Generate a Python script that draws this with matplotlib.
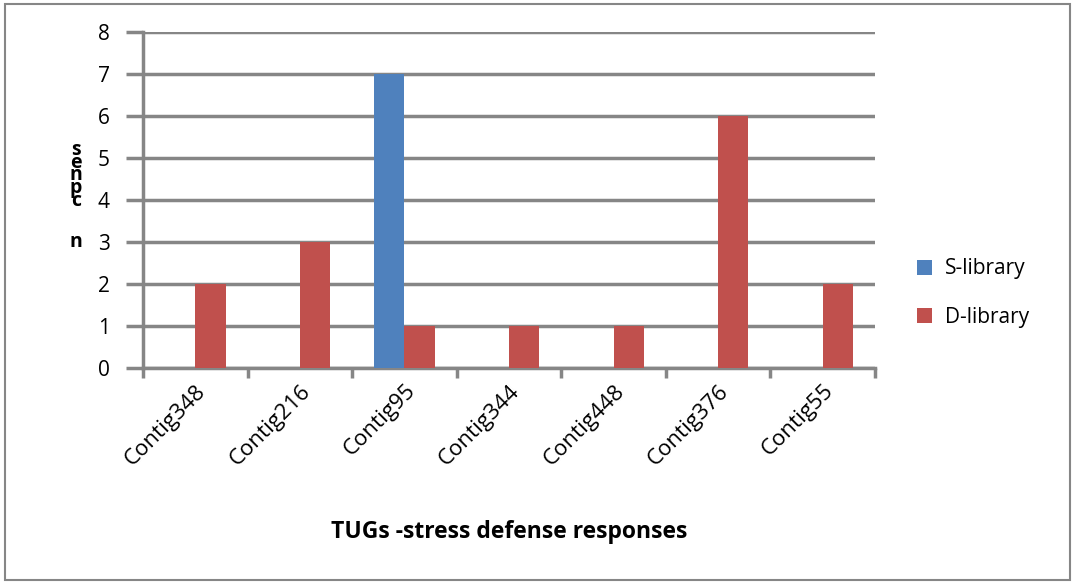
import numpy as np
import matplotlib.pyplot as plt
import matplotlib.transforms as mtransforms
from matplotlib.patches import Rectangle

contigs = ["Contig348", "Contig216", "Contig95", "Contig344", "Contig448", "Contig376", "Contig55"]
s_library = [0, 0, 7, 0, 0, 0, 0]
d_library = [2, 3, 1, 1, 1, 6, 2]

s_color = "#4F81BD"
d_color = "#C0504D"
grid_color = "#868686"

plt.rcParams['font.family'] = ['Open Sans', 'DejaVu Sans']

fig = plt.figure(figsize=(10.75, 5.84), dpi=100)
W, H = 1075, 584
ax = fig.add_axes([143 / W, 1 - 368 / H, 732 / W, 336 / H])

x = np.arange(len(contigs))
w = 0.29
ax.bar(x - w / 2, s_library, w, color=s_color, label="S-library", zorder=3)
ax.bar(x + w / 2, d_library, w, color=d_color, label="D-library", zorder=3)

ax.set_xlim(-0.5, len(contigs) - 0.5)
ax.set_ylim(0, 8)
ax.set_yticks(range(9))
ax.yaxis.grid(True, color=grid_color, linewidth=2.5, zorder=0)
ax.set_axisbelow(True)

for side in ["top", "right"]:
    ax.spines[side].set_visible(False)
for side in ["left", "bottom"]:
    ax.spines[side].set_color(grid_color)
    ax.spines[side].set_linewidth(2.5)

ax.set_xticks(np.arange(-0.5, len(contigs), 1.0))
ax.set_xticklabels([])
ax.set_xticks(x, minor=True)
ax.set_xticklabels(contigs, minor=True, rotation=45, ha="right",
                   rotation_mode="anchor", fontsize=16)
shift = mtransforms.ScaledTranslation(6 / 100, 0, fig.dpi_scale_trans)
for lbl in ax.get_xticklabels(minor=True):
    lbl.set_transform(lbl.get_transform() + shift)
ax.tick_params(axis="x", which="minor", length=0, pad=9)
ax.tick_params(axis="x", which="major", length=7, width=2.5, color=grid_color, direction="out")
ax.tick_params(axis="y", length=12, width=2.5, color=grid_color, labelsize=15, pad=12)

ax.set_xlabel("TUGs -stress defense responses", fontsize=16.5, fontweight="bold")
ax.xaxis.set_label_coords(0.5, -(520 - 368) / 336)

# garbled stacked y-axis label
for ch, yy in [("s", 150), ("e", 163), ("n", 175), ("p", 188), ("c", 201), ("n", 242)]:
    fig.text(76 / W, 1 - yy / H, ch, fontsize=14, fontweight="bold", ha="center", va="center")

ax.legend(loc="center left", bbox_to_anchor=(898 / W, 1 - 293 / H), bbox_transform=fig.transFigure,
          frameon=False, fontsize=15, handlelength=0.75, handleheight=0.75, labelspacing=1.3,
          handletextpad=0.6)

fig.patches.append(Rectangle((5 / W, 4 / H), 1065 / W, 576 / H, transform=fig.transFigure,
                             fill=False, edgecolor=grid_color, linewidth=1.5))

fig.savefig("out.png", dpi=100)
